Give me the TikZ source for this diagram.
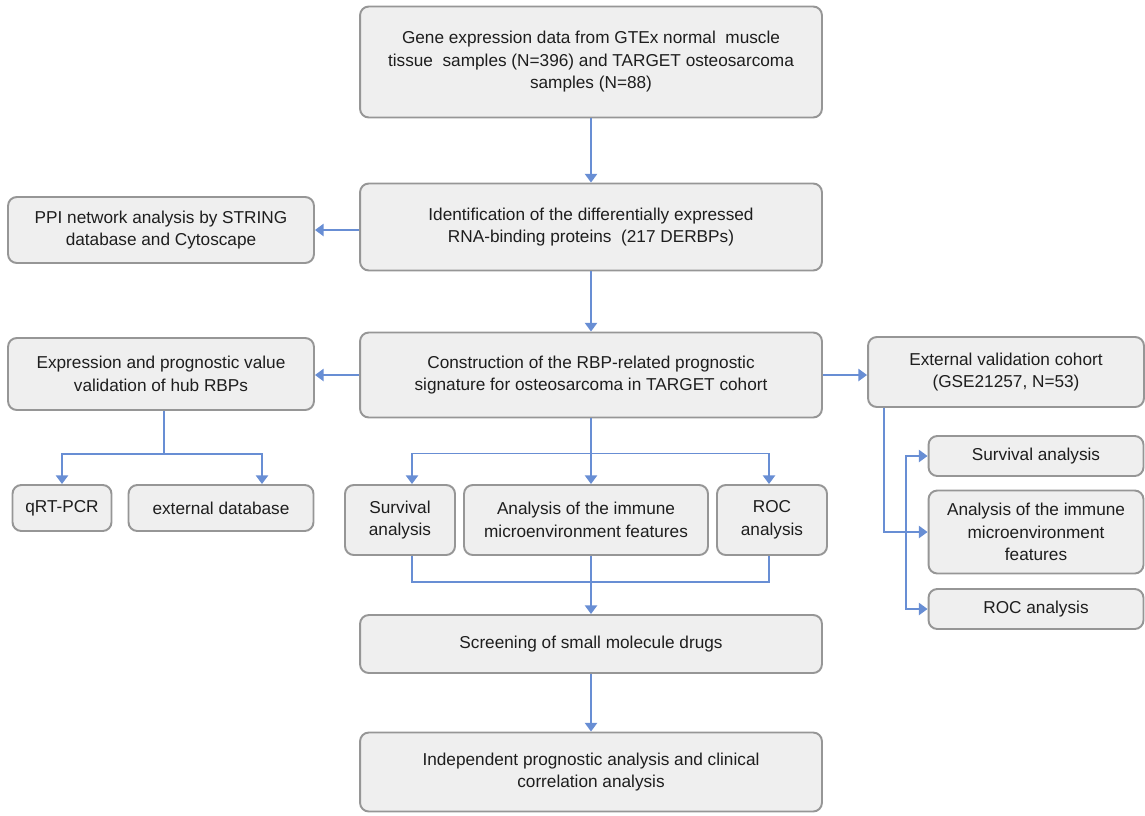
\documentclass[tikz,border=0pt]{standalone}
\usepackage{fontspec}
\setmainfont{Liberation Sans}
\usetikzlibrary{arrows.meta,positioning}
\definecolor{flowblue}{RGB}{104,142,212}
\definecolor{boxfill}{RGB}{239,239,239}
\definecolor{boxedge}{RGB}{150,150,150}
\definecolor{txtgray}{RGB}{30,30,30}

\begin{document}
\begin{tikzpicture}[x=0.02cm, y=-0.02cm, font=\fontsize{9.8}{12.8}\selectfont,
    box/.style={draw=boxedge, fill=boxfill, line width=1.1pt, rounded corners=5pt,
        align=center, inner sep=0pt, text=txtgray},
    ln/.style={draw=flowblue, line width=1.1pt},
    arr/.style={ln, -{Triangle[width=7pt,length=5pt]}}]
    \useasboundingbox (0,0) rectangle (1145,815);

    % main column
    \node[box, minimum width=9.24cm, minimum height=2.22cm] (gene) at (591,62)
        {Gene expression data from GTEx normal\ \ muscle\\ tissue\ \ samples (N=396) and TARGET osteosarcoma\\ samples (N=88)};
    \node[box, minimum width=9.24cm, minimum height=1.74cm] (ident) at (591,227)
        {Identification of the differentially expressed\\ RNA-binding proteins\ \ (217 DERBPs)};
    \node[box, minimum width=9.24cm, minimum height=1.7cm] (constr) at (591,375)
        {Construction of the RBP-related prognostic\\ signature for osteosarcoma in TARGET cohort};
    \node[box, minimum width=2.2cm, minimum height=1.4cm] (surv) at (400,520)
        {Survival\\ analysis};
    \node[box, minimum width=4.88cm, minimum height=1.4cm] (immune) at (586,520)
        {Analysis of the immune\\ microenvironment features};
    \node[box, minimum width=2.2cm, minimum height=1.4cm] (roc) at (772,520)
        {ROC\\ analysis};
    \node[box, minimum width=9.24cm, minimum height=1.16cm] (screen) at (591,644)
        {Screening of small molecule drugs};
    \node[box, minimum width=9.24cm, minimum height=1.58cm] (indep) at (591,772)
        {Independent prognostic analysis and clinical\\ correlation analysis};

    % left column
    \node[box, minimum width=6.12cm, minimum height=1.32cm] (ppi) at (161,230)
        {PPI network analysis by STRING\\ database and Cytoscape};
    \node[box, minimum width=6.12cm, minimum height=1.44cm] (expr) at (161,374)
        {Expression and prognostic value\\ validation of hub RBPs};
    \node[box, minimum width=1.98cm, minimum height=0.92cm] (qrt) at (62,508) {qRT-PCR};
    \node[box, minimum width=3.7cm, minimum height=0.92cm] (extdb) at (221,508) {external database};

    % right column
    \node[box, minimum width=5.52cm, minimum height=1.4cm] (extc) at (1006,372)
        {External validation cohort\\ (GSE21257, N=53)};
    \node[box, minimum width=4.3cm, minimum height=0.8cm] (esurv) at (1036,456) {Survival analysis};
    \node[box, minimum width=4.3cm, minimum height=1.66cm] (eimm) at (1036,532)
        {Analysis of the immune\\ microenvironment\\ features};
    \node[box, minimum width=4.3cm, minimum height=0.8cm] (eroc) at (1036,609) {ROC analysis};

    % connectors
    \draw[arr] (gene) -- (ident);
    \draw[arr] (ident) -- (constr);
    \draw[arr] (ident.west |- ppi.east) -- (ppi.east);
    \draw[arr] (constr.west) -- (constr.west -| expr.east);
    \draw[arr] (constr.east) -- (constr.east -| extc.west);

    \draw[arr] ([xshift=0.06cm]expr.south) -- ++(0,43) coordinate (ej) -| (qrt.north);
    \draw[arr] (ej) -| ([xshift=0.82cm]extdb.north);

    \draw[ln] (constr.south) -- ++(0,35) coordinate (cj);
    \draw[arr] (cj) -| ([xshift=0.24cm]surv.north);
    \draw[arr] (cj) -- (cj |- immune.north);
    \draw[arr] (cj) -| ([xshift=-0.06cm]roc.north);

    \draw[ln] ([xshift=0.24cm]surv.south) -- ++(0,26) -| ([xshift=-0.06cm]roc.south);
    \draw[ln] (immune.south -| constr.south) -- ++(0,26);
    \draw[arr] ([yshift=-0.52cm]immune.south -| constr.south) -- (screen.north);
    \draw[arr] (screen) -- (indep);

    \draw[arr] ([xshift=-2.44cm]extc.south) |- (eimm.west);
    \coordinate (ev) at (906,532);
    \draw[arr] (ev) |- (esurv.west);
    \draw[arr] (ev) |- (eroc.west);
\end{tikzpicture}
\end{document}
